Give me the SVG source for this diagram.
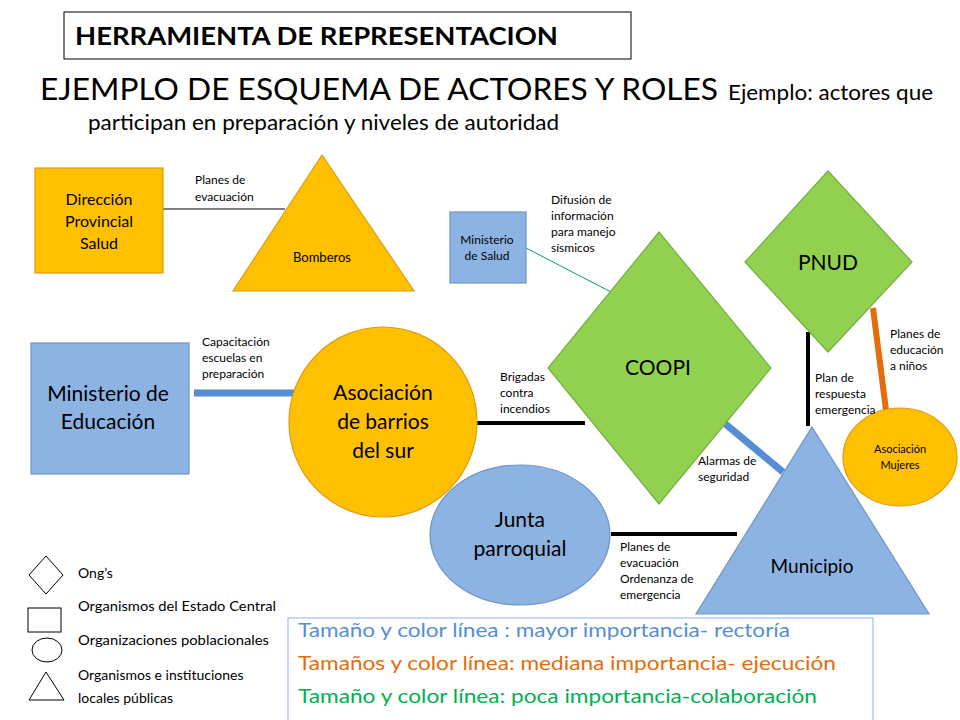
<svg xmlns="http://www.w3.org/2000/svg" width="960" height="720" viewBox="0 0 960 720">
<style>
text{font-family:Lato,"Open Sans","Liberation Sans",sans-serif;fill:#000}
.s{font-size:12px}
.m{font-size:21px;text-anchor:middle}
.c{text-anchor:middle}
.or{fill:#FFC000;stroke:#E09A10;stroke-width:1.2}
.bl{fill:#8DB3E2;stroke:#6F95C4;stroke-width:1.2}
.gr{fill:#92D050;stroke:#72B040;stroke-width:1.2}
.lg{fill:#fff;stroke:#000;stroke-width:1}
.lt{font-size:14px}
</style>
<rect width="960" height="720" fill="#fff"/>
<g id="title">
<rect x="64" y="12" width="567" height="47" fill="#fff" stroke="#000"/>
<text x="75" y="45" font-size="25" font-weight="bold" textLength="483" lengthAdjust="spacingAndGlyphs">HERRAMIENTA DE REPRESENTACION</text>
<text x="40" y="100" font-size="31" textLength="678" lengthAdjust="spacingAndGlyphs">EJEMPLO DE ESQUEMA DE ACTORES Y ROLES</text>
<text x="728" y="100" font-size="21" textLength="205" lengthAdjust="spacingAndGlyphs">Ejemplo: actores que</text>
<text x="88" y="130" font-size="21" textLength="471" lengthAdjust="spacingAndGlyphs">participan en preparación y niveles de autoridad</text>
</g>
<g id="connectors">
<line x1="163" y1="209" x2="285" y2="209" stroke="#000" stroke-width="1"/>
<line x1="526" y1="248" x2="611" y2="292" stroke="#00A060" stroke-width="1"/>
<line x1="194" y1="393" x2="298" y2="393" stroke="#558ED5" stroke-width="7"/>
<line x1="477" y1="423" x2="585" y2="423" stroke="#000" stroke-width="4"/>
<line x1="611" y1="534" x2="737" y2="534" stroke="#000" stroke-width="4"/>
<line x1="723" y1="422" x2="783" y2="472" stroke="#558ED5" stroke-width="7"/>
<line x1="808" y1="332" x2="808" y2="426" stroke="#000" stroke-width="4"/>
<line x1="873" y1="308" x2="887" y2="418" stroke="#E46C0A" stroke-width="6"/>
</g>
<g id="dps"><rect x="35" y="168" width="128" height="105" class="or"/>
<text x="99" y="205" class="c" font-size="16">Dirección</text><text x="99" y="227" class="c" font-size="16">Provincial</text><text x="99" y="249" class="c" font-size="16">Salud</text></g>
<g id="bomberos"><polygon points="322,155 414,291 233,291" class="or"/><text x="322" y="262" class="c" font-size="13">Bomberos</text></g>
<g id="minsalud"><rect x="450" y="212" width="76" height="71" class="bl"/><text x="487" y="244" class="c s">Ministerio</text><text x="487" y="260" class="c s">de Salud</text></g>
<g id="coopi"><polygon points="659,232 771,368 659,504 548,368" class="gr"/><text x="658" y="375" class="m">COOPI</text></g>
<g id="pnud"><polygon points="828,171 912,262 828,352 745,262" class="gr"/><text x="828" y="270" class="m">PNUD</text></g>
<g id="mineduc"><rect x="31" y="343" width="158" height="131" class="bl"/><text x="108" y="401" class="m">Ministerio de</text><text x="108" y="429" class="m">Educación</text></g>
<g id="barrios"><ellipse cx="383" cy="422" rx="94" ry="95" class="or"/><text x="383" y="400" class="m">Asociación</text><text x="383" y="429" class="m">de barrios</text><text x="383" y="458" class="m">del sur</text></g>
<g id="junta"><ellipse cx="520" cy="535" rx="90" ry="70" class="bl"/><text x="520" y="527" class="m">Junta</text><text x="520" y="556" class="m">parroquial</text></g>
<g id="municipio"><polygon points="812,427 929,614 696,614" class="bl"/><text x="812" y="573" class="c" font-size="19">Municipio</text></g>
<g id="mujeres"><ellipse cx="900" cy="457" rx="57" ry="49" class="or"/><text x="900" y="453" class="c" font-size="11">Asociación</text><text x="900" y="469" class="c" font-size="11">Mujeres</text></g>
<g id="labels">
<text x="195" y="184" class="s">Planes de</text><text x="195" y="201" class="s">evacuación</text>
<text x="551" y="204" class="s">Difusión de</text><text x="551" y="220" class="s">información</text><text x="551" y="236" class="s">para manejo</text><text x="551" y="252" class="s">sísmicos</text>
<text x="202" y="346" class="s">Capacitación</text><text x="202" y="362" class="s">escuelas en</text><text x="202" y="378" class="s">preparación</text>
<text x="500" y="381" class="s">Brigadas</text><text x="500" y="397" class="s">contra</text><text x="500" y="413" class="s">incendios</text>
<text x="698" y="465" class="s">Alarmas de</text><text x="698" y="481" class="s">seguridad</text>
<text x="620" y="551" class="s">Planes  de</text><text x="620" y="567" class="s">evacuación</text><text x="620" y="583" class="s">Ordenanza de</text><text x="620" y="599" class="s">emergencia</text>
<text x="815" y="382" class="s">Plan de</text><text x="815" y="398" class="s">respuesta</text><text x="815" y="414" class="s">emergencia</text>
<text x="890" y="338" class="s">Planes de</text><text x="890" y="354" class="s">educación</text><text x="890" y="370" class="s">a niños</text>
</g>
<g id="legend">
<polygon points="46,556 63,575 46,594 29,575" class="lg"/>
<rect x="28" y="608" width="33" height="24" class="lg"/>
<ellipse cx="47" cy="650" rx="15" ry="12" class="lg"/>
<polygon points="46,672 64,700 29,700" class="lg"/>
<text x="78" y="578" class="lt">Ong’s</text>
<text x="78" y="611" class="lt" textLength="198" lengthAdjust="spacingAndGlyphs">Organismos del Estado Central</text>
<text x="78" y="645" class="lt" textLength="191" lengthAdjust="spacingAndGlyphs">Organizaciones poblacionales</text>
<text x="78" y="680" class="lt">Organismos e instituciones</text>
<text x="78" y="703" class="lt">locales públicas</text>
<rect x="288" y="618" width="585" height="120" fill="#fff" stroke="#8DB3E2"/>
<text x="298" y="637" font-size="20" style="fill:#558ED5" textLength="492" lengthAdjust="spacingAndGlyphs">Tamaño y color línea : mayor importancia- rectoría</text>
<text x="298" y="670" font-size="20" style="fill:#E46C0A" textLength="538" lengthAdjust="spacingAndGlyphs">Tamaños y color línea: mediana importancia- ejecución</text>
<text x="298" y="703" font-size="20" style="fill:#00B050" textLength="519" lengthAdjust="spacingAndGlyphs">Tamaño y color línea: poca importancia-colaboración</text>
</g>
</svg>
